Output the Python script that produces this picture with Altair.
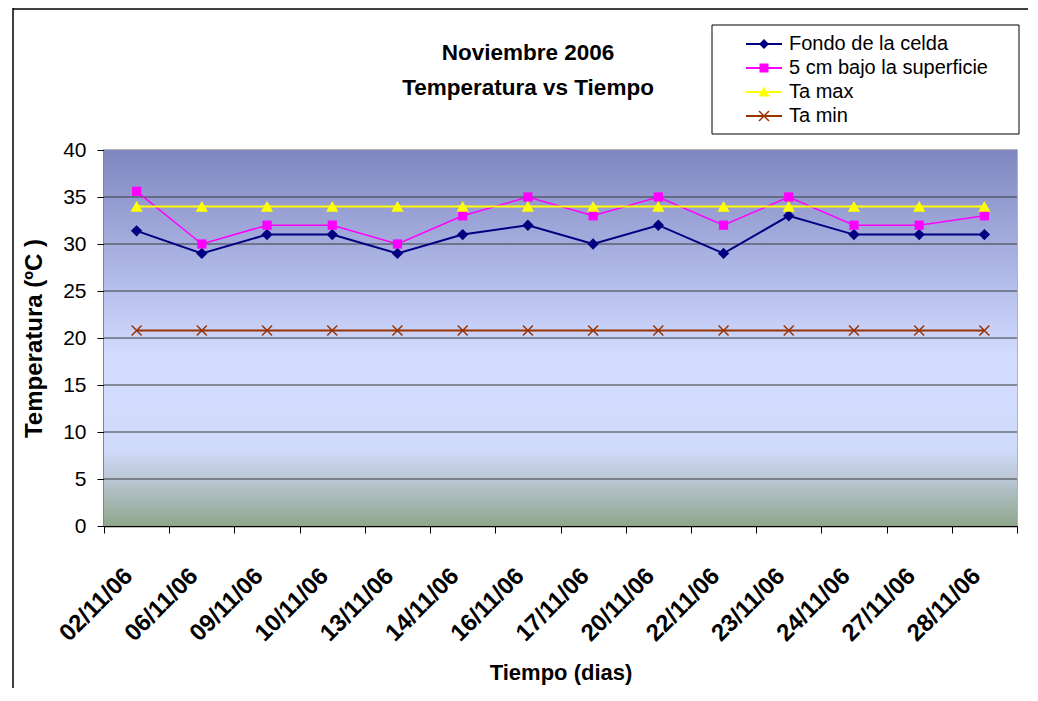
import altair as alt
import pandas as pd

# ---------------- data ----------------
fechas = ["02/11/06", "06/11/06", "09/11/06", "10/11/06", "13/11/06", "14/11/06", "16/11/06",
          "17/11/06", "20/11/06", "22/11/06", "23/11/06", "24/11/06", "27/11/06", "28/11/06"]
fondo = [31.4, 29, 31, 31, 29, 31, 32, 30, 32, 29, 33, 31, 31, 31]
sup5 = [35.6, 30, 32, 32, 30, 33, 35, 33, 35, 32, 35, 32, 32, 33]
ta_max = [34, 34, 34, 34, 34, 34, 34, 34, 34, 34, 34, 34, 34, 34]
ta_min = [20.8, 20.8, 20.8, 20.8, 20.8, 20.8, 20.8, 20.8, 20.8, 20.8, 20.8, 20.8, 20.8, 20.8]
series = ["Fondo de la celda", "5 cm bajo la superficie", "Ta max", "Ta min"]
y_ticks = [0, 5, 10, 15, 20, 25, 30, 35, 40]
grid_vals = [5, 10, 15, 20, 25, 30, 35]

# ---------------- styles ----------------
colors = ["#000080", "#FF00FF", "#FFFF00", "#993300"]
line_widths = [2, 1.5, 2, 2]
X_PATH = "M-1,-1L1,1M1,-1L-1,1"
shapes = ["diamond", "square", "triangle-up", X_PATH]
sizes = [130, 85, 150, 100]
filled = [True, True, True, False]

# legend symbols: line segment + marker (all filled)
bar = "M-1,-0.1H2.6V0.1H-1Z"
legend_paths = [
    bar + "M0.8,-0.5L1.3,0L0.8,0.5L0.3,0Z",
    bar + "M0.35,-0.45H1.25V0.45H0.35Z",
    bar + "M0.8,-0.55L1.35,0.45H0.25Z",
    bar + "M0.353,-0.553L1.353,0.447L1.247,0.553L0.247,-0.447Z"
          "M1.353,-0.447L0.353,0.553L0.247,0.447L1.247,-0.553Z",
]

FONT = "Liberation Sans"
W, H = 913, 376

rows = []
for name, vals in zip(series, [fondo, sup5, ta_max, ta_min]):
    for f, v in zip(fechas, vals):
        rows.append({"fecha": f, "serie": name, "temp": v})
df = pd.DataFrame(rows)
one = pd.DataFrame({"k": [0]})
grid_df = pd.DataFrame({"temp": grid_vals})

x_enc = alt.X(
    "fecha:N", sort=fechas, bandPosition=0.5,
    scale=alt.Scale(type="band", paddingInner=0, paddingOuter=0),
    axis=alt.Axis(
        title="Tiempo (dias)", grid=False, tickBand="extent", labelAngle=-45,
        labelAlign="right", labelBaseline="middle", labelPadding=39, labelOffset=-8,
        labelFont=FONT, labelFontSize=24, labelFontWeight="bold", labelColor="black",
        labelOverlap=False, tickSize=7, tickColor="black", tickWidth=1,
        domainColor="black", domainWidth=1.5,
        titleFont=FONT, titleFontSize=22, titleFontWeight="bold", titleColor="black",
        titleBaseline="alphabetic", titleY=153,
    ),
)
y_enc = alt.Y(
    "temp:Q",
    scale=alt.Scale(domain=[0, 40], nice=False),
    axis=alt.Axis(
        title="Temperatura (ºC )", values=y_ticks, grid=False,
        tickSize=7, tickColor="black", tickWidth=1,
        domainColor="black", domainWidth=1.5,
        labelFont=FONT, labelFontSize=21, labelColor="black", labelPadding=11,
        titleFont=FONT, titleFontSize=24, titleFontWeight="bold", titleColor="black",
        titleBaseline="alphabetic", titleX=-63,
    ),
)

gradient = alt.LinearGradient(
    gradient="linear", x1=0, x2=0, y1=0, y2=1,
    stops=[
        alt.GradientStop(offset=0, color="#8087C0"),
        alt.GradientStop(offset=0.35, color="#B4BCEA"),
        alt.GradientStop(offset=0.55, color="#D3DCFF"),
        alt.GradientStop(offset=0.8, color="#D0DAFA"),
        alt.GradientStop(offset=0.88, color="#B9C5D2"),
        alt.GradientStop(offset=1, color="#8FA68B"),
    ],
)

layers = []

# plot-area background
layers.append(alt.Chart(one).mark_rect(fill=gradient).encode(
    x=alt.value(0), x2=alt.value("width"), y=alt.value(0), y2=alt.value("height")))

# horizontal gridlines
layers.append(alt.Chart(grid_df).mark_rule(color="#3A3A3A", strokeWidth=1).encode(y=y_enc))

# outer frame (left and top edges)
layers.append(alt.Chart(one).mark_rule(color="black", strokeWidth=1.5).encode(
    x=alt.value(-91), y=alt.value(-142), y2=alt.value(H + 162)))
layers.append(alt.Chart(one).mark_rule(color="black", strokeWidth=1.5).encode(
    x=alt.value(-91), x2=alt.value(W + 11), y=alt.value(-141)))

# legend box
layers.append(alt.Chart(one).mark_rect(fill="white", stroke="black", strokeWidth=1).encode(
    x=alt.value(608), x2=alt.value(915), y=alt.value(-125), y2=alt.value(-16)))

# series
for name, col, lw, shp, sz, fl in zip(series, colors, line_widths, shapes, sizes, filled):
    base = alt.Chart(df).transform_filter(alt.datum.serie == name)
    layers.append(base.mark_line(color=col, strokeWidth=lw).encode(x=x_enc, y=y_enc))
    if fl:
        pt = base.mark_point(shape=shp, size=sz, filled=True, color=col, opacity=1, strokeWidth=0)
    else:
        pt = base.mark_point(shape=shp, size=sz, filled=False, color=col, opacity=1, strokeWidth=1.5)
    layers.append(pt.encode(x=x_enc, y=y_enc))

# legend (symbols only come from this layer)
leg = alt.Legend(
    orient="none", legendX=642, legendY=-116, title=None, direction="vertical",
    labelFont=FONT, labelFontSize=20, labelColor="black", labelOffset=23, labelLimit=400,
    symbolSize=400, symbolStrokeWidth=0, rowPadding=4, padding=0,
)
layers.append(
    alt.Chart(df).transform_filter("false").mark_point(filled=True, size=400, opacity=1).encode(
        color=alt.Color("serie:N", scale=alt.Scale(domain=series, range=colors), legend=leg),
        shape=alt.Shape("serie:N", scale=alt.Scale(domain=series, range=legend_paths), legend=leg),
    )
)

# title
layers.append(alt.Chart(one).mark_text(
    text=["Noviembre 2006", "Temperatura vs Tiempo"], font=FONT, fontSize=22.5, fontWeight="bold",
    lineHeight=35, baseline="alphabetic", align="center", color="black",
).encode(x=alt.value(424), y=alt.value(-90)))

chart = alt.layer(*layers).properties(
    width=W, height=H,
    padding={"left": 96, "top": 142, "right": 11, "bottom": 162},
    autosize=alt.AutoSizeParams(type="none"),
    background="white",
).configure_view(stroke="#9A9A9A", strokeWidth=1.5)

chart.save("out.html", embed_options={"renderer": "svg", "actions": False})
